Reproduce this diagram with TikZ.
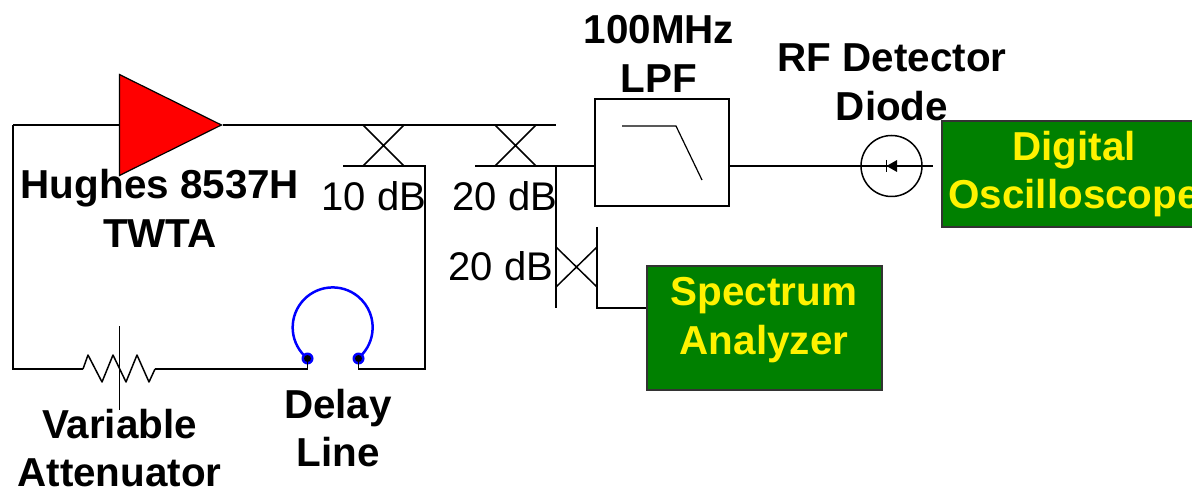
\documentclass[tikz,border=0pt]{standalone}
\usepackage{fontspec}
\setmainfont{Liberation Sans}
\usepackage{tikz}
\usetikzlibrary{shapes}
\definecolor{boxgreen}{RGB}{0,128,0}
\tikzstyle{wire}=[draw,line width=1.5pt]
\tikzstyle{title}=[inner sep=0,align=center,font=\fontsize{40.4}{48.5}\selectfont\bfseries]
\tikzstyle{db}=[inner sep=0,font=\fontsize{40}{48}\selectfont]
\tikzstyle{greenbox}=[draw=black!80,line width=1.5pt,fill=boxgreen,inner sep=0,minimum height=106pt]
\tikzstyle{boxtext}=[title,text=yellow]
\tikzstyle{amp}=[isosceles triangle,isosceles triangle stretches,draw,line width=1.2pt,fill=red,inner sep=0,minimum width=101pt,minimum height=102pt]
\tikzstyle{port}=[circle,fill=blue,inner sep=0,minimum size=12pt]

\begin{document}
\begin{tikzpicture}[x=1pt,y=1pt]
        \useasboundingbox (0,0) rectangle (1192,-489);
        % corners of the loop
        \coordinate (tl) at (13,-125);
        \coordinate (bl) at (13,-369);
        \coordinate (br) at (425,-369);
        \coordinate (cpla) at (425,-166);
        \coordinate (cplaend) at (343,-166);
        \coordinate (cplb) at (475,-166);
        \coordinate (topend) at (556,-125);
        \coordinate (tee) at (556,-166);
        \coordinate (mainend) at (556,-308);
        \coordinate (cplctop) at (597,-227);
        \coordinate (cplcbot) at (597,-308);
        \coordinate (lpfin) at (595,-166);
        \coordinate (lpfout) at (729,-166);
        \coordinate (detend) at (933,-166);
        \coordinate (attin) at (83,-369);
        \coordinate (attout) at (155,-369);

        \path[wire] (tl) -- (119,-125);
        \node[amp,anchor=apex] (twta) at (223,-125) {};
        \node[draw,line width=1.5pt,minimum width=134pt,minimum height=107pt,inner sep=0] (lpf) at (662,-152.5) {};
        \node[draw,circle,line width=1.5pt,minimum size=61pt,inner sep=0] (det) at (891.5,-166) {};
        \node[greenbox,minimum width=260pt] (scope) at (1072,-174) {};
        \node[greenbox,minimum width=235pt,minimum height=124pt] (spec) at (764.5,-328) {};
        \node[port] (dla) at (307.5,-358.5) {};
        \node[port] (dlb) at (358.5,-358.5) {};

        % wires
        \path[wire] (tl) -- (bl) -- (attin);
        \path[wire] (twta.apex) -- (topend);
        \path[wire] (attout) -- (307.5,-369) -- (dla.center);
        \path[wire] (dlb.center) -- (358.5,-369) -- (br) -- (cpla) -- (cplaend);
        \path[wire] (cplb) -- (lpfin);
        \path[wire] (tee) -- (mainend);
        \path[wire] (cplctop) -- (cplcbot) -- (spec.west |- cplcbot);
        \path[wire] (lpfout) -- (detend);

        % couplers
        \path[wire] (363,-125) -- (404,-166) (404,-125) -- (363,-166);
        \path[wire] (495,-125) -- (536,-166) (536,-125) -- (495,-166);
        \path[wire] (556,-247) -- (597,-287) (556,-287) -- (597,-247);

        % attenuator
        \path[wire,line join=round] (attin) -- (88,-355) -- (102,-382) -- (113,-355) -- (126,-382) -- (137,-355) -- (149,-382) -- (attout);
        \path[wire] (119.5,-326) -- (119.5,-410);

        % filter curve
        \path[wire,line width=1.2pt] (622,-126) -- (676,-126) -- (702,-180);

        % diode
        \fill (886.5,-166) -- (897,-160) -- (897,-172) -- cycle;
        \path[wire] (886.5,-160) -- (886.5,-172);

        % delay line
        \draw[blue,line width=2.5pt] (dla.center) arc (231:-51:40);
        \fill (dla) circle (3.5pt) (dlb) circle (3.5pt);

        \node[title] (twtatext) at (160,-208.5) {Hughes 8537H\\TWTA};
        \node[title] (lpftext) at (659,-54) {100MHz\\LPF};
        \node[title] (dettext) at (892,-82.5) {RF Detector\\Diode};
        \node[title] (delaytext) at (338,-428) {Delay\\Line};
        \node[title] (atttext) at (119.5,-448) {Variable\\Attenuator};
        \node[boxtext] (scopetext) at (1074,-174) {Digital\\Oscilloscope};
        \node[boxtext] (spectext) at (764,-320) {Spectrum\\Analyzer};
        \node[db] (dba) at (374,-196) {10 dB};
        \node[db] (dbb) at (505,-196) {20 dB};
        \node[db] (dbc) at (501,-266) {20 dB};
\end{tikzpicture}
\end{document}
